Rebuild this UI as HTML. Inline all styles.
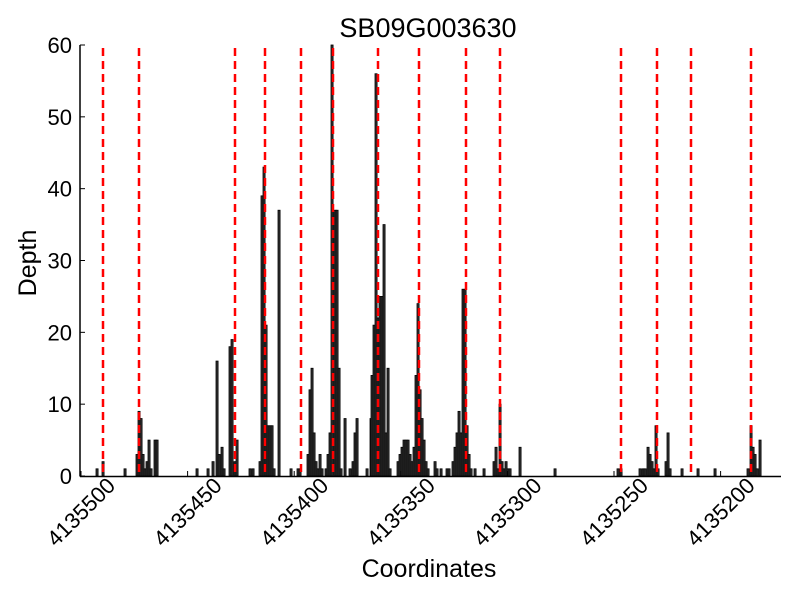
<!DOCTYPE html>
<html><head><meta charset="utf-8"><style>body{margin:0;background:#fff}svg{display:block}</style></head>
<body>
<svg id="s" width="800" height="600" xmlns="http://www.w3.org/2000/svg" font-family="Liberation Sans, sans-serif">
<rect width="800" height="600" fill="#fff"/>
<g id="bars"></g>
<g id="red"></g>
<line x1="80" y1="45" x2="80" y2="476.5" stroke="#000" stroke-width="1.5"/>
<line x1="80" y1="476.5" x2="781" y2="476.5" stroke="#000" stroke-width="1.5"/>
<g id="ticks"></g>
<text x="428" y="37" font-size="27" text-anchor="middle">SB09G003630</text>
<text x="429" y="577" font-size="25" text-anchor="middle">Coordinates</text>
<text transform="translate(36,263) rotate(-90)" font-size="25" text-anchor="middle">Depth</text>
</svg>
<script>
var NS="http://www.w3.org/2000/svg";
function el(p,t,a,txt){var e=document.createElementNS(NS,t);for(var k in a)e.setAttribute(k,a[k]);if(txt!=null)e.textContent=txt;document.getElementById(p).appendChild(e);}
var Y0=476,S=431/60;
var bars=[[97,1],[103,2],[125,1],[137,3],[139,9],[141,8],[143,3],[145,1],[147,2],[149,5],[151,1],[155,5],[157,5],
[197,1],[208,1],[213,2],[217,16],[219,3],[222,4],[224,1],[230,18],[232,19],[235,2],[237,5],[250,1],[253,1],
[260,2],[262,39],[264,43],[266,21],[268,7],[270,7],[272,7],[274,1],[279,37],[291,1],[298,1],[300,1],
[308,3],[310,12],[312,15],[314,6],[316,2],[318,1],[320,3],[322,1],[326,1],[328,3],[330,6],[332,60],[335,37],[337,37],[339,15],[341,1],[345,8],[350,1],[353,2],[355,6],[357,8],
[367,1],[371,8],[372,14],[374,21],[376,56],[378,22],[380,25],[382,25],[384,35],[386,6],[388,15],[390,1],
[398,2],[400,3],[402,4],[404,5],[406,5],[408,5],[410,3],[412,2],[414,4],[416,14],[418,24],[420,12],[422,8],[424,5],[426,2],[428,1],
[435,2],[437,1],[441,1],[447,1],[449,1],[453,2],[455,4],[457,6],[459,9],[461,6],[463,26],[465,26],[467,7],[469,3],[471,1],[475,1],
[484,1],[494,2],[496,4],[498,1],[500,10],[502,2],[504,1],[506,2],[508,1],[510,1],[520,4],[555,1],
[618,1],[621,1],[640,1],[643,1],[645,1],[648,4],[650,3],[652,2],[654,1],[656,7],[658,1],[666,2],[668,6],[670,1],[682,1],[698,1],[715,1],[748,1],[751,7],[753,4],[755,3],[757,1],[760,5]];
bars.forEach(function(b){var h=b[1]*S;el("bars","rect",{x:b[0]-1,y:Y0-h,width:2.1,height:h,fill:"#333",stroke:"#000","stroke-width":0.8});});
[103,139,235,265,301,333,378,419,466,500,621,657,691,751].forEach(function(x){el("red","line",{x1:x,y1:48,x2:x,y2:476,stroke:"#f00","stroke-width":2.5,"stroke-dasharray":"8,5"});});
for(var v=0;v<=60;v+=10){var y=Y0-v*S;el("ticks","line",{x1:80,y1:y,x2:85,y2:y,stroke:"#000"});el("ticks","text",{x:72,y:y+8,"font-size":22,"text-anchor":"end"},String(v));}
var labs=["4135500","4135450","4135400","4135350","4135300","4135250","4135200"];
labs.forEach(function(l,i){var x=81+i*106.6;el("ticks","line",{x1:x,y1:476,x2:x,y2:471,stroke:"#000"});el("ticks","text",{transform:"translate("+x+",512) rotate(-45)","font-size":22,"text-anchor":"middle","dominant-baseline":"central"},l);});
</script>
</body></html>
